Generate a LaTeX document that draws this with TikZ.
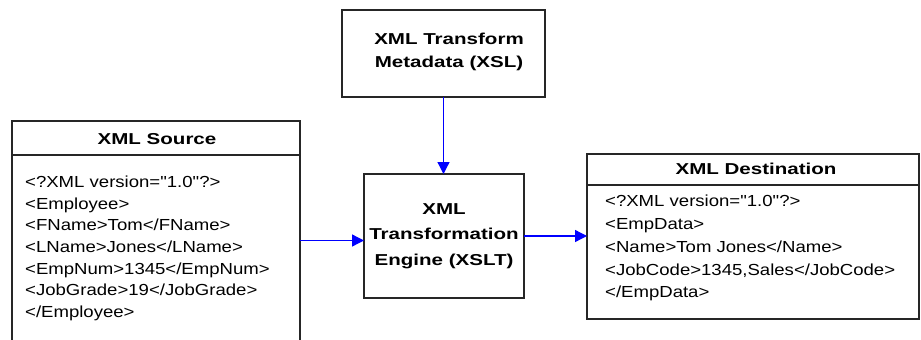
\documentclass[tikz,border=0pt]{standalone}
\usepackage{fontspec}
\setmainfont{Liberation Sans}
\newfontfamily\bodyfont[FakeStretch=1.16,Ligatures=TeXOff]{Liberation Sans}
\newfontfamily\hdfont[FakeStretch=1.3]{Liberation Sans}
\usetikzlibrary{arrows.meta}
\begin{document}
\begin{tikzpicture}[x=1pt,y=-1pt,
  box/.style={rectangle,draw=black!85,line width=1.3pt,inner sep=0pt,outer sep=0pt},
  arr/.style={draw=blue,line width=1.3pt,-{Triangle[length=12pt,width=12pt]}},
  hd/.style={inner sep=0pt,font=\hdfont\bfseries\fontsize{15.8}{19}\selectfont},
  bd/.style={inner sep=0pt,anchor=base west,font=\bodyfont\fontsize{16}{19}\selectfont}]
\useasboundingbox (0,0) rectangle (921,340);
\clip (0,0) rectangle (921,340);
% boxes
\node[box,minimum width=288pt,minimum height=239pt] (src) at (156,240.5) {};
\node[box,minimum width=203pt,minimum height=87pt] (meta) at (443.5,53.5) {};
\node[box,minimum width=160pt,minimum height=124pt] (eng) at (444,236) {};
\node[box,minimum width=332pt,minimum height=165pt] (dst) at (753,236.5) {};
% header dividers
\draw[draw=black!85,line width=1.3pt] (src.west |- 0,155) -- (src.east |- 0,155);
\draw[draw=black!85,line width=1.3pt] (dst.west |- 0,185) -- (dst.east |- 0,185);
% headers
\node[hd] (srchd) at (157,139) {XML Source};
\node[hd] (dsthd) at (756,169) {XML Destination};
\node[hd,align=center,font=\hdfont\bfseries\fontsize{15.8}{23}\selectfont] (metatxt) at (449,52) {XML Transform\\Metadata (XSL)};
\node[hd,align=center,font=\hdfont\bfseries\fontsize{15.8}{25.5}\selectfont] (engtxt) at (444,236) {XML\\Transformation\\Engine (XSLT)};
% body lines
\foreach \t [count=\i] in {{<?XML version="1.0"?>},{<Employee>},{<FName>Tom</FName>},{<LName>Jones</LName>},{<EmpNum>1345</EmpNum>},{<JobGrade>19</JobGrade>},{</Employee>}}
  \node[bd] (s\i) at (25,187.3+21.7*\i-21.7) {\t};
\foreach \t [count=\i] in {{<?XML version="1.0"?>},{<EmpData>},{<Name>Tom Jones</Name>},{<JobCode>1345,Sales</JobCode>},{</EmpData>}}
  \node[bd] (d\i) at (605,206.7+22.8*\i-22.8) {\t};
% connectors
\draw[arr] (meta.south) -- (meta.south |- eng.north);
\draw[arr] (src.east) -- (src.east -| eng.west);
\draw[arr] (eng.east) -- (eng.east -| dst.west);
\end{tikzpicture}
\end{document}
